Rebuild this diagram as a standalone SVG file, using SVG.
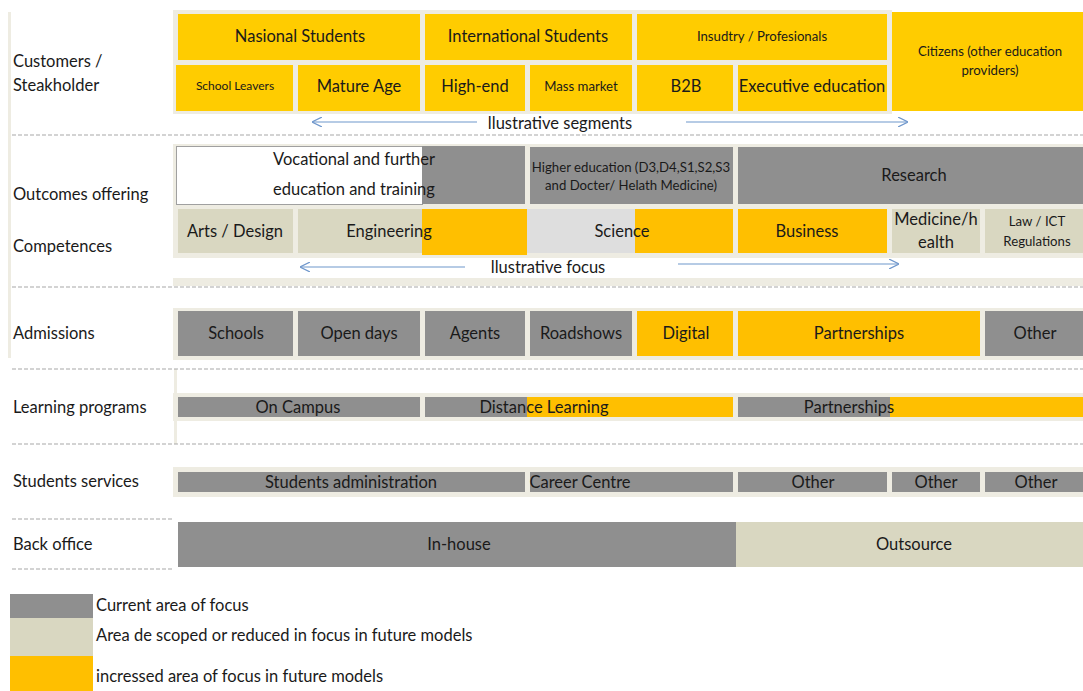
<svg xmlns="http://www.w3.org/2000/svg" width="1083" height="691" viewBox="0 0 1083 691">
<defs>
<style>
text{font-family:Lato,"Liberation Sans",sans-serif;fill:#1a1a1a;}
.lbl{font-size:16.5px;}
.c{text-anchor:middle;font-size:16.5px;}
.s{text-anchor:middle;font-size:13.2px;}
.xs{text-anchor:middle;font-size:12px;}
.g{fill:#8f8f8f;}
.b{fill:#d9d7c1;}
.y{fill:#ffcc00;}
.o{fill:#ffbf00;}
.lg{fill:#dedede;}
.f{fill:#eeece2;}
.dash{stroke:#a8a8a8;stroke-width:1.2;stroke-dasharray:4 2;fill:none;}
.arr{stroke:#6f97cc;stroke-width:1.2;fill:none;}
</style>
<marker id="ah" viewBox="0 0 10 10" refX="9" refY="5" markerWidth="10" markerHeight="10" markerUnits="userSpaceOnUse" orient="auto-start-reverse">
<path d="M0,0 L10,5 L0,10" fill="none" stroke="#6f97cc" stroke-width="1.2"/>
</marker>
</defs>
<rect width="1083" height="691" fill="#ffffff"/>

<!-- frames / structure -->
<g id="frames">
<rect class="f" x="8" y="12" width="3" height="346"/>
<rect class="f" x="174" y="369" width="3" height="75"/>
<rect class="f" x="173" y="10" width="719" height="56"/>
<rect class="f" x="173" y="62" width="719" height="52"/>
<rect class="f" x="173" y="144" width="910" height="114"/>
<rect class="f" x="173" y="278" width="910" height="8"/>
<rect class="f" x="173" y="308" width="910" height="52"/>
<rect class="f" x="173" y="393" width="910" height="28"/>
<rect class="f" x="173" y="467" width="910" height="30"/>
</g>

<g id="dashes">
<line class="dash" x1="12" y1="135" x2="1083" y2="135"/>
<line class="dash" x1="12" y1="287" x2="1083" y2="287"/>
<line class="dash" x1="12" y1="369" x2="1083" y2="369"/>
<line class="dash" x1="12" y1="444" x2="1083" y2="444"/>
<line class="dash" x1="12" y1="519" x2="173" y2="519"/>
<line class="dash" x1="12" y1="569" x2="173" y2="569"/>
</g>

<!-- row labels -->
<g id="labels">
<text class="lbl" x="13" y="67">Customers /</text>
<text class="lbl" x="13" y="91">Steakholder</text>
<text class="lbl" x="13" y="200">Outcomes offering</text>
<text class="lbl" x="13" y="252">Competences</text>
<text class="lbl" x="13" y="339">Admissions</text>
<text class="lbl" x="13" y="413">Learning programs</text>
<text class="lbl" x="13" y="487">Students services</text>
<text class="lbl" x="13" y="550">Back office</text>
</g>

<!-- Customers -->
<g id="nasional"><rect class="y" x="178" y="14" width="242" height="46"/><text class="c" x="300" y="42">Nasional Students</text></g>
<g id="international"><rect class="y" x="425" y="14" width="207" height="46"/><text class="c" x="528" y="42">International Students</text></g>
<g id="industry"><rect class="y" x="637" y="14" width="250" height="46"/><text class="s" x="762" y="41">Insudtry / Profesionals</text></g>
<g id="citizens"><rect class="y" x="892" y="12" width="191" height="99"/><text class="s" x="990" y="56">Citizens (other education</text><text class="s" x="990" y="75">providers)</text></g>
<g id="school-leavers"><rect class="y" x="176" y="65" width="117" height="46"/><text class="xs" x="235" y="90">School Leavers</text></g>
<g id="mature"><rect class="y" x="298" y="65" width="122" height="46"/><text class="c" x="359" y="92">Mature Age</text></g>
<g id="high-end"><rect class="y" x="425" y="65" width="100" height="46"/><text class="c" x="475" y="92">High-end</text></g>
<g id="mass"><rect class="y" x="530" y="65" width="102" height="46"/><text class="s" x="581" y="91">Mass market</text></g>
<g id="b2b"><rect class="y" x="637" y="65" width="96" height="46"/><text class="c" x="686" y="92">B2B</text></g>
<g id="exec"><rect class="y" x="738" y="65" width="149" height="46"/><text class="c" x="812" y="92">Executive education</text></g>

<!-- Outcomes -->
<g id="vocational"><rect x="176.5" y="146.5" width="246" height="58" fill="#ffffff" stroke="#a0a0a0" stroke-width="1"/><rect class="g" x="422" y="146" width="103" height="58"/><text class="c" x="354" y="165">Vocational and further</text><text class="c" x="354" y="195">education and training</text></g>
<g id="higher"><rect class="g" x="530" y="147" width="203" height="57"/><text class="s" x="631" y="172">Higher education (D3,D4,S1,S2,S3</text><text class="s" x="631" y="190">and Docter/ Helath Medicine)</text></g>
<g id="research"><rect class="g" x="738" y="147" width="345" height="57"/><text class="c" x="914" y="181">Research</text></g>

<!-- Competences -->
<g id="arts"><rect class="b" x="178" y="209" width="115" height="44"/><text class="c" x="235" y="237">Arts / Design</text></g>
<g id="engineering"><rect class="b" x="298" y="209" width="124" height="44"/><rect class="o" x="422" y="209" width="105" height="46"/><text class="c" x="389" y="237">Engineering</text></g>
<g id="science"><rect class="lg" x="527" y="209" width="108" height="44"/><rect class="o" x="635" y="209" width="98" height="44"/><text class="c" x="622" y="237">Science</text></g>
<g id="business"><rect class="o" x="738" y="209" width="149" height="44"/><text class="c" x="807" y="237">Business</text></g>
<g id="medicine"><rect class="b" x="892" y="209" width="88" height="44"/><text class="c" x="936" y="225">Medicine/h</text><text class="c" x="936" y="248">ealth</text></g>
<g id="law"><rect class="b" x="985" y="209" width="98" height="44"/><text class="s" x="1037" y="226">Law / ICT</text><text class="s" x="1037" y="246">Regulations</text></g>

<!-- Admissions -->
<g id="schools"><rect class="g" x="178" y="311" width="115" height="45"/><text class="c" x="236" y="339">Schools</text></g>
<g id="open-days"><rect class="g" x="298" y="311" width="122" height="45"/><text class="c" x="359" y="339">Open days</text></g>
<g id="agents"><rect class="g" x="425" y="311" width="100" height="45"/><text class="c" x="475" y="339">Agents</text></g>
<g id="roadshows"><rect class="g" x="530" y="311" width="102" height="45"/><text class="c" x="581" y="339">Roadshows</text></g>
<g id="digital"><rect class="o" x="637" y="311" width="96" height="45"/><text class="c" x="686" y="339">Digital</text></g>
<g id="adm-partnerships"><rect class="o" x="738" y="311" width="242" height="45"/><text class="c" x="859" y="339">Partnerships</text></g>
<g id="adm-other"><rect class="g" x="985" y="311" width="98" height="45"/><text class="c" x="1035" y="339">Other</text></g>

<!-- Learning programs -->
<g id="on-campus"><rect class="g" x="178" y="397" width="242" height="20"/><text class="c" x="298" y="413">On Campus</text></g>
<g id="distance"><rect class="g" x="425" y="397" width="102" height="20"/><rect class="o" x="527" y="397" width="206" height="20"/><text class="c" x="544" y="413">Distance Learning</text></g>
<g id="lp-partnerships"><rect class="g" x="738" y="397" width="152" height="20"/><rect class="o" x="890" y="397" width="193" height="20"/><text class="c" x="849" y="413">Partnerships</text></g>

<!-- Students services -->
<g id="stud-admin"><rect class="g" x="178" y="472" width="347" height="20"/><text class="c" x="351" y="488">Students administration</text></g>
<g id="career"><rect class="g" x="530" y="472" width="203" height="20"/><text class="c" x="580" y="488">Career Centre</text></g>
<g id="ss-other1"><rect class="g" x="738" y="472" width="149" height="20"/><text class="c" x="813" y="488">Other</text></g>
<g id="ss-other2"><rect class="g" x="892" y="472" width="88" height="20"/><text class="c" x="936" y="488">Other</text></g>
<g id="ss-other3"><rect class="g" x="985" y="472" width="98" height="20"/><text class="c" x="1036" y="488">Other</text></g>

<!-- Back office -->
<g id="inhouse"><rect class="g" x="178" y="522" width="558" height="45"/><text class="c" x="459" y="550">In-house</text></g>
<g id="outsource"><rect class="b" x="736" y="522" width="347" height="45"/><text class="c" x="914" y="550">Outsource</text></g>

<!-- arrows -->
<g id="connectors">
<line class="arr" x1="477" y1="122" x2="313" y2="122" marker-end="url(#ah)"/>
<line class="arr" x1="686" y1="122" x2="907" y2="122" marker-end="url(#ah)"/>
<line class="arr" x1="465" y1="267" x2="301" y2="267" marker-end="url(#ah)"/>
<line class="arr" x1="678" y1="264" x2="898" y2="264" marker-end="url(#ah)"/>
</g>
<text class="c" x="560" y="129">llustrative segments</text>
<text class="c" x="548" y="273">llustrative focus</text>

<!-- legend -->
<g id="legend">
<rect class="g" x="10" y="594" width="83" height="24"/>
<rect class="b" x="10" y="618" width="83" height="38"/>
<rect class="o" x="10" y="656" width="83" height="35"/>
<text class="lbl" x="96" y="611">Current area of focus</text>
<text class="lbl" x="96" y="641">Area de scoped or reduced in focus in future models</text>
<text class="lbl" x="96" y="682">incressed area of focus in future models</text>
</g>
</svg>
